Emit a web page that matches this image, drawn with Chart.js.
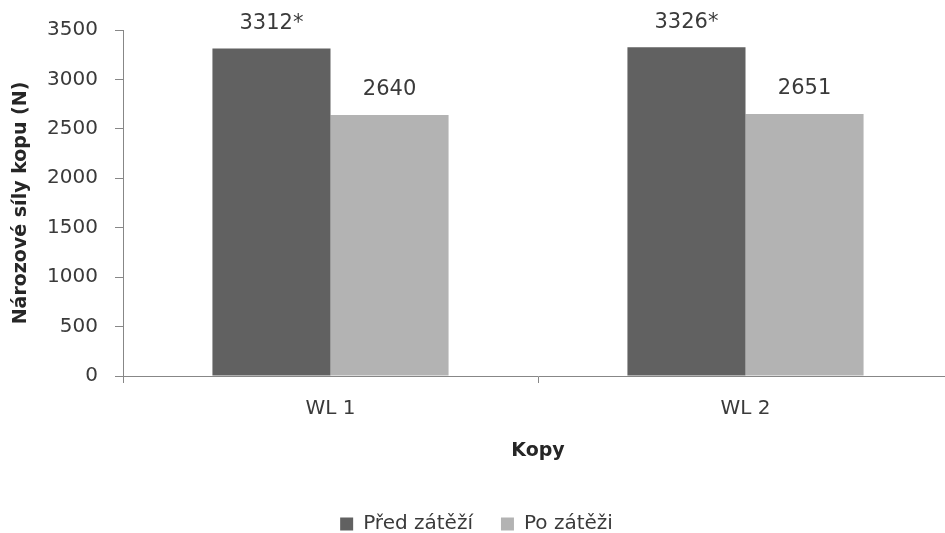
<!DOCTYPE html>
<html>
<head>
<meta charset="utf-8">
<script src="https://cdn.jsdelivr.net/npm/chart.js@4"></script>
<style>
  html, body { margin: 0; padding: 0; background: #ffffff; }
  #wrap { width: 945px; height: 533px; overflow: hidden; position: relative; }
  canvas { display: block; }
</style>
</head>
<body>
<div id="wrap"><canvas id="c" width="960" height="544"></canvas></div>
<script>
// Categories and series
const categories = ['WL 1', 'WL 2'];
const seriesNames = ['Před zátěží', 'Po zátěži'];
const predValues = [3312, 3326];
const poValues = [2640, 2651];
// Significance markers appended to value labels
const predMarks = ['*', '*'];
const poMarks = ['', ''];
// Value axis ticks
const yTicks = [0, 500, 1000, 1500, 2000, 2500, 3000, 3500];

const FONT = 'DejaVu Sans';
const TEXT = '#3a3a3a';
const AXIS = '#878787';

const valueLabels = {
  id: 'valueLabels',
  afterDatasetsDraw(chart) {
    const ctx = chart.ctx;
    ctx.save();
    ctx.font = '21px "' + FONT + '"';
    ctx.fillStyle = TEXT;
    ctx.textAlign = 'center';
    ctx.textBaseline = 'middle';
    chart.data.datasets.forEach((ds, di) => {
      const meta = chart.getDatasetMeta(di);
      meta.data.forEach((bar, i) => {
        const text = String(ds.data[i]) + (ds.marks[i] || '');
        ctx.fillText(text, bar.x, bar.y - 25);
      });
    });
    ctx.restore();
  }
};

new Chart(document.getElementById('c'), {
  type: 'bar',
  data: {
    labels: categories,
    datasets: [
      { label: seriesNames[0], data: predValues, marks: predMarks, backgroundColor: '#616161', borderWidth: 0 },
      { label: seriesNames[1], data: poValues, marks: poMarks, backgroundColor: '#b3b3b3', borderWidth: 0 }
    ]
  },
  options: {
    responsive: false,
    animation: false,
    devicePixelRatio: 1,
    categoryPercentage: 0.569,
    barPercentage: 1.0,
    layout: { padding: { top: 30, right: 7, bottom: 0, left: 0 } },
    plugins: {
      tooltip: { enabled: false },
      legend: {
        position: 'bottom',
        labels: {
          font: { family: FONT, size: 20 },
          color: TEXT,
          boxWidth: 13,
          boxHeight: 13,
          padding: 28
        }
      }
    },
    scales: {
      x: {
        afterFit(scale) { scale.height = 110; },
        grid: { offset: true, drawOnChartArea: false, drawTicks: true, tickLength: 7, color: AXIS },
        border: { color: AXIS, width: 1 },
        ticks: { font: { family: FONT, size: 20 }, color: TEXT, padding: 14 },
        title: {
          display: true,
          text: 'Kopy',
          font: { family: FONT, size: 19, weight: 'bold' },
          color: '#262626',
          padding: { top: 0, bottom: 24 }
        }
      },
      y: {
        min: 0,
        max: 3500,
        afterFit(scale) { scale.width = 123; },
        afterBuildTicks(scale) { scale.ticks = yTicks.map(v => ({ value: v })); },
        grid: { drawOnChartArea: false, drawTicks: true, tickLength: 8, color: AXIS },
        border: { color: AXIS, width: 1 },
        ticks: {
          font: { family: FONT, size: 20 },
          color: TEXT,
          padding: 17,
          callback: (v) => String(v)
        },
        title: {
          display: true,
          text: 'Nározové síly kopu (N)',
          font: { family: FONT, size: 19, weight: 'bold' },
          color: '#262626',
          padding: { top: 10, bottom: 0 }
        }
      }
    }
  },
  plugins: [valueLabels]
});
</script>
</body>
</html>
